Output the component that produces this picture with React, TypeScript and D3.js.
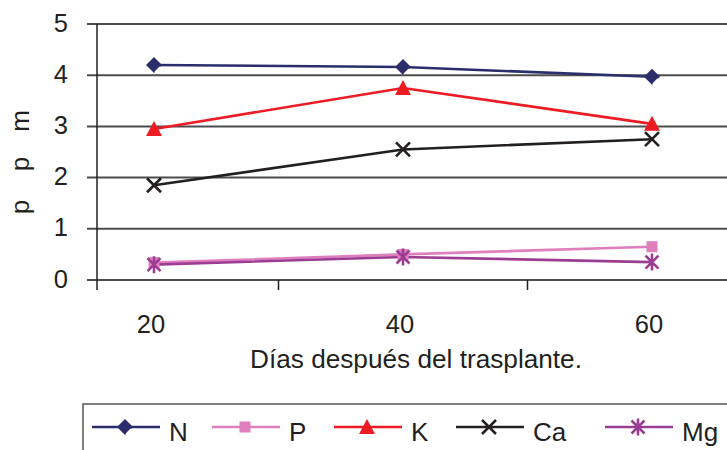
import * as d3 from "d3"

const days = [20, 40, 60]
const yTicks = [0, 1, 2, 3, 4, 5]

const nVals = [4.2, 4.16, 3.97]
const pVals = [0.34, 0.5, 0.65]
const kVals = [2.95, 3.75, 3.05]
const caVals = [1.85, 2.55, 2.75]
const mgVals = [0.3, 0.45, 0.35]

const seriesNames = ["N", "P", "K", "Ca", "Mg"]
const seriesVals = [nVals, pVals, kVals, caVals, mgVals]
const seriesColors = ["#2b2e6b", "#e07fbd", "#ed1c24", "#231f20", "#9b3d92"]
const seriesMarks = ["diamond", "square", "triangle", "cross", "star"]

const font = "'Liberation Sans', Arial, sans-serif"

const Marker = ({ kind, color, x, y }: { kind: string; color: string; x: number; y: number }) => {
    const t = `translate(${x},${y})`
    if (kind === "diamond") {
        return (
            <g transform={t}>
                <path d="M0,-8L8,0L0,8L-8,0Z" fill={color} />
                <path d="M6,2L1,7" stroke="white" strokeWidth={1.2} />
            </g>
        )
    }
    if (kind === "square") return <rect transform={t} x={-5.5} y={-5.5} width={11} height={11} fill={color} />
    if (kind === "triangle") return <path transform={t} d="M0,-8L8,7L-8,7Z" fill={color} />
    if (kind === "cross") {
        return <path transform={t} d="M-7,-7L7,7M7,-7L-7,7" stroke={color} strokeWidth={2.6} fill="none" />
    }
    return <path transform={t} d="M-6.5,-6.5L6.5,6.5M6.5,-6.5L-6.5,6.5M0,-8.5L0,8.5" stroke={color} strokeWidth={2.6} fill="none" />
}

export default function App() {
    const width = 727
    const height = 450
    const axisX = 97
    const x = d3.scalePoint<number>().domain(days).range([154, 652])
    const y = d3.scaleLinear().domain([0, 5]).range([280, 24])
    const line = d3.line<number>().x((_, i) => x(days[i]) as number).y((v) => y(v))
    const step = x.step()
    const midTicks = days.slice(0, -1).map((d) => (x(d) as number) + step / 2)

    const legendX = [92, 212, 334, 456, 605]
    const legendY = 427

    return (
        <svg width={width} height={height} style={{ position: "absolute", left: 0, top: 0 }} fontFamily={font}>
            {yTicks.map((t) => (
                <g key={t}>
                    <line x1={87} x2={width} y1={y(t)} y2={y(t)} stroke="#4d4d4d" strokeWidth={2} />
                    <text x={68} y={y(t)} dy="0.3em" textAnchor="end" fontSize={25.5} fill="#231f20">{t}</text>
                </g>
            ))}
            <line x1={axisX} x2={axisX} y1={y(5)} y2={290} stroke="#231f20" strokeWidth={1.5} />
            {midTicks.map((t) => (
                <line key={t} x1={t} x2={t} y1={y(0)} y2={290} stroke="#231f20" strokeWidth={1.5} />
            ))}
            {days.map((d) => (
                <text key={d} x={(x(d) as number) - 3} y={333} textAnchor="middle" fontSize={25.5} fill="#231f20">{d}</text>
            ))}
            <text x={416} y={368} textAnchor="middle" fontSize={26.2} fill="#231f20">Días después del trasplante.</text>
            {["p", "p", "m"].map((c, i) => (
                <text key={i} transform={`translate(29,${207 - i * 43}) rotate(-90)`} textAnchor="middle" fontSize={26} fill="#231f20">{c}</text>
            ))}

            {seriesVals.map((vals, si) => (
                <path key={si} d={line(vals) ?? ""} fill="none" stroke={seriesColors[si]} strokeWidth={2.6} />
            ))}
            {seriesVals.map((vals, si) =>
                vals.map((v, i) => (
                    <Marker key={`${si}-${i}`} kind={seriesMarks[si]} color={seriesColors[si]} x={x(days[i]) as number} y={y(v)} />
                ))
            )}

            <rect x={83} y={404} width={700} height={80} fill="none" stroke="#555" strokeWidth={1.5} />
            {seriesNames.map((n, si) => (
                <g key={n}>
                    <line x1={legendX[si]} x2={legendX[si] + 68} y1={legendY} y2={legendY} stroke={seriesColors[si]} strokeWidth={2.6} />
                    <Marker kind={seriesMarks[si]} color={seriesColors[si]} x={legendX[si] + 33} y={legendY} />
                    <text x={legendX[si] + 77} y={legendY + 6} dy="0.3em" fontSize={26} fill="#231f20">{n}</text>
                </g>
            ))}
        </svg>
    )
}
